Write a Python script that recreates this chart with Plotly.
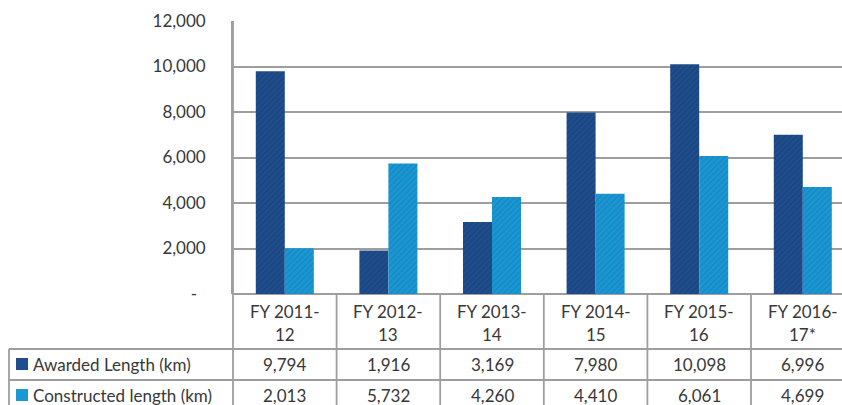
import plotly.graph_objects as go

categories = ["FY 2011-12", "FY 2012-13", "FY 2013-14", "FY 2014-15", "FY 2015-16", "FY 2016-17*"]
header_line1 = ["FY 2011-", "FY 2012-", "FY 2013-", "FY 2014-", "FY 2015-", "FY 2016-"]
header_line2 = ["12", "13", "14", "15", "16", "17*"]
awarded = [9794, 1916, 3169, 7980, 10098, 6996]
constructed = [2013, 5732, 4260, 4410, 6061, 4699]
series_names = ["Awarded Length (km)", "Constructed length (km)"]
y_ticks = [0, 2000, 4000, 6000, 8000, 10000, 12000]
y_ticktext = ["-\u00a0\u00a0", "2,000", "4,000", "6,000", "8,000", "10,000", "12,000"]

DARK = "#1F4E8E"
DARK_FG = "#163A6B"
LIGHT = "#1A98D5"
LIGHT_FG = "#1479AE"
GRID = "#9E9E9E"
TXT = "#383838"
FONT = "Lato"
FS = 17

W, H = 842, 405
L, R, T, B = 233, 0, 21, 111
PW = W - L - R
PH = H - T - B

def py(Y):
    return (H - B - Y) / PH

def px(X):
    return (X - L) / PW

x_idx = list(range(len(categories)))

fig = go.Figure()
fig.add_trace(go.Bar(
    x=x_idx, y=awarded, name=series_names[0],
    marker=dict(color=DARK, line=dict(width=0),
                pattern=dict(shape="/", fgcolor=DARK_FG, size=4, solidity=0.4)),
))
fig.add_trace(go.Bar(
    x=x_idx, y=constructed, name=series_names[1],
    marker=dict(color=LIGHT, line=dict(width=0),
                pattern=dict(shape="/", fgcolor=LIGHT_FG, size=4, solidity=0.4)),
))

shapes = []
annotations = []
line_style = dict(color=GRID, width=1.8)

for Y in [349, 380]:
    shapes.append(dict(type="line", xref="paper", yref="paper",
                       x0=px(9), x1=1.0, y0=py(Y), y1=py(Y), line=line_style))
shapes.append(dict(type="line", xref="paper", yref="paper",
                   x0=px(9), x1=px(9), y0=py(349), y1=py(410), line=line_style))
shapes.append(dict(type="line", xref="paper", yref="paper",
                   x0=0, x1=0, y0=1, y1=py(410), line=line_style))
for i in range(len(categories)):
    xs = i + 0.5
    shapes.append(dict(type="line", xref="x", yref="paper",
                       x0=xs, x1=xs, y0=0, y1=py(410), line=line_style))

font = dict(family=FONT, size=FS, color=TXT)
for i in x_idx:
    for txt, Y in [(header_line1[i], 311), (header_line2[i], 334),
                   (f"{awarded[i]:,}", 364), (f"{constructed[i]:,}", 395)]:
        annotations.append(dict(x=i, y=py(Y), xref="x", yref="paper", text=txt,
                                xanchor="center", yanchor="middle",
                                showarrow=False, font=font))

row_centers = [364, 395]
key_colors = [DARK, LIGHT]
for k in range(2):
    Yc = row_centers[k]
    shapes.append(dict(type="rect", xref="paper", yref="paper",
                       x0=px(16), x1=px(28), y0=py(Yc + 6), y1=py(Yc - 6),
                       fillcolor=key_colors[k], line=dict(width=0)))
    annotations.append(dict(x=px(31), y=py(Yc), xref="paper", yref="paper",
                            text=series_names[k], xanchor="left", yanchor="middle",
                            showarrow=False, font=font))

fig.update_layout(
    width=W, height=H,
    margin=dict(l=L, r=R, t=T, b=B, pad=0),
    paper_bgcolor="white", plot_bgcolor="white",
    barmode="group", bargap=0.44, bargroupgap=0,
    showlegend=False,
    shapes=shapes, annotations=annotations,
    xaxis=dict(range=[-0.5, -0.5 + PW / 103.6], showticklabels=False, showgrid=False,
               zeroline=False, showline=False, ticks=""),
    yaxis=dict(range=[0, 12000], tickvals=y_ticks, ticktext=y_ticktext,
               showgrid=True, gridcolor=GRID, gridwidth=1.8,
               showline=True, linecolor=GRID, linewidth=1.8,
               zeroline=True, zerolinecolor=GRID, zerolinewidth=1.8,
               ticks="", ticklabelstandoff=22,
               tickfont=font),
)

fig.write_html("out.html", config={"displayModeBar": False},
               post_script="document.body.style.margin='0';document.body.style.overflow='hidden';")
